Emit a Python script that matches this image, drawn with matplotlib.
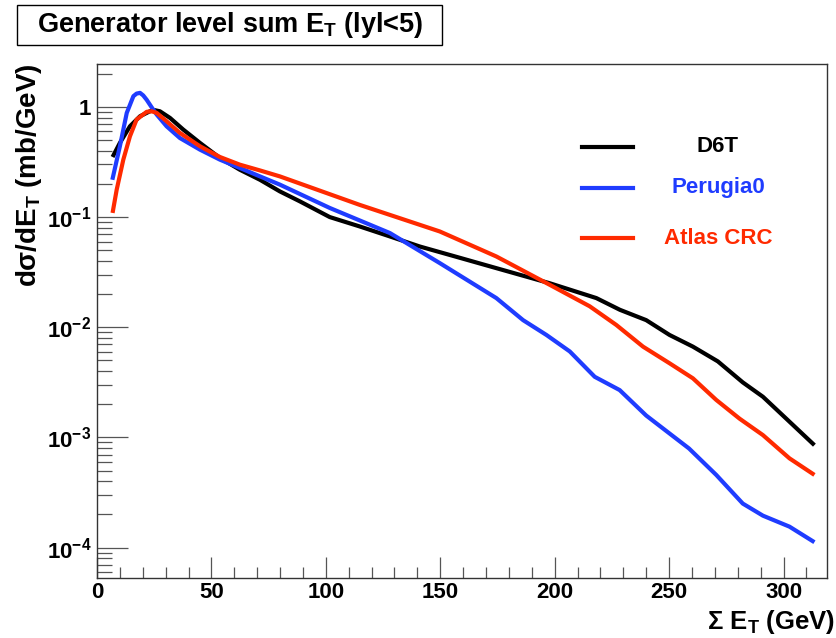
import matplotlib
matplotlib.use("Agg")
import math
import matplotlib.pyplot as plt
from matplotlib.patches import Rectangle
from matplotlib.ticker import LogLocator, MultipleLocator, NullFormatter

# ---- data ----
d6t_x = [6.8, 10, 14.4, 18.8, 23.1, 25.3, 27.5, 31.9, 37.7, 45, 53.7, 62.4, 71.2, 79.9, 88.6,
         101.7, 114.8, 128, 141, 154, 176, 197.8, 218.2, 228.5, 240, 250.2, 260.4,
         271.3, 282.2, 291, 301.2, 313.5]
d6t_y = [0.351, 0.471, 0.667, 0.822, 0.912, 0.933, 0.912, 0.794, 0.622, 0.471, 0.344, 0.269,
         0.218, 0.171, 0.139, 0.100, 0.0822, 0.0667, 0.0541, 0.0454, 0.0337, 0.0251,
         0.0184, 0.0144, 0.0116, 0.00851, 0.00667, 0.00490, 0.00316, 0.00234,
         0.00148, 0.000851]

perugia_x = [6.7, 10, 13, 15.9, 17.3, 18.8, 20.2, 21.7, 23.9, 26.1, 30.4, 36.2, 45, 53.7,
             62.4, 71.2, 79.9, 101.7, 128, 149.8, 174.5, 186.2, 196.4, 206.6, 217.5,
             228.4, 240, 258.7, 270.6, 282.2, 291, 302.6, 313.5]
perugia_y = [0.218, 0.439, 0.881, 1.25, 1.32, 1.34, 1.27, 1.16, 0.99, 0.851, 0.667, 0.522,
             0.409, 0.332, 0.279, 0.234, 0.197, 0.121, 0.0716, 0.0382, 0.0184, 0.0116,
             0.00851, 0.00603, 0.00355, 0.00269, 0.00158, 0.000794, 0.000457, 0.000251,
             0.000195, 0.000155, 0.000112]

atlas_x = [6.8, 8.6, 11.5, 14.4, 17.3, 21.7, 23.9, 26.1, 30.4, 36.2, 45, 53.7, 62.4, 71.2,
           79.9, 114.8, 149.8, 174.5, 197.8, 215.3, 226.9, 238.6, 250.2, 260.4, 270.6,
           280.8, 291, 302.6, 313.5]
atlas_y = [0.109, 0.177, 0.332, 0.541, 0.767, 0.902, 0.912, 0.881, 0.741, 0.581, 0.439,
           0.351, 0.299, 0.265, 0.234, 0.129, 0.0740, 0.0439, 0.0243, 0.0155, 0.0105,
           0.00667, 0.00471, 0.00344, 0.00219, 0.00148, 0.00105, 0.000646, 0.000457]

series_names = ["D6T", "Perugia0", "Atlas CRC"]
colors = ["#000000", "#1f3cff", "#ff2a00"]

plt.rcParams['font.family'] = ['Liberation Sans', 'DejaVu Sans']
plt.rcParams['mathtext.fontset'] = 'custom'
plt.rcParams['mathtext.rm'] = 'Liberation Sans:bold'
plt.rcParams['mathtext.it'] = 'Liberation Sans:bold'
plt.rcParams['mathtext.bf'] = 'Liberation Sans:bold'

W, H = 836, 638
fig = plt.figure(figsize=(W / 100, H / 100), dpi=100)
ax = fig.add_axes([97 / W, 1 - 578 / H, (827 - 97) / W, (578 - 64) / H])

lw = 3.0
for (xs, ys), c in zip([(d6t_x, d6t_y), (perugia_x, perugia_y), (atlas_x, atlas_y)], colors):
    ax.plot(xs, ys, color=c, lw=lw, solid_capstyle='butt', solid_joinstyle='round')

ax.set_yscale('log')
ax.set_xlim(0, 319)
ax.set_ylim(5.3e-5, 2.45)

ax.xaxis.set_major_locator(MultipleLocator(50))
ax.xaxis.set_minor_locator(MultipleLocator(10))
ax.yaxis.set_major_locator(LogLocator(base=10, numticks=10))
ax.yaxis.set_minor_locator(LogLocator(base=10, subs=range(2, 10), numticks=20))
ax.yaxis.set_minor_formatter(NullFormatter())

def ylab(v, pos):
    e = int(round(math.log10(v)))
    if e == 0:
        return "1"
    return r"$\mathbf{10^{%d}}$" % e
ax.yaxis.set_major_formatter(plt.FuncFormatter(ylab))

ax.tick_params(axis='both', which='both', direction='in', top=False, right=False,
               color='#555555', width=0.9)
ax.tick_params(axis='y', which='major', length=22, labelsize=16, pad=4)
ax.tick_params(axis='y', which='minor', length=11)
ax.tick_params(axis='x', which='major', length=15, labelsize=16, pad=3)
ax.tick_params(axis='x', which='minor', length=8)
for lab in ax.get_xticklabels() + ax.get_yticklabels():
    lab.set_fontweight('bold')
for s in ax.spines.values():
    s.set_color('#333333')
    s.set_linewidth(1.0)

# axis titles
fig.text(29 / W, 1 - 63 / H, r"d$\mathregular{\sigma}$/dE$_{\mathregular{T}}$ (mb/GeV)",
         fontsize=20, fontweight='bold', rotation=90, ha='center', va='top')
fig.text(835 / W, 1 - 608 / H, r"$\mathregular{\Sigma}$ E$_{\mathregular{T}}$ (GeV)",
         fontsize=18.5, fontweight='bold', ha='right', va='top')

# legend drawn manually
for name, c, yy in zip(series_names, colors, [147, 188, 238]):
    yf = 1 - yy / H
    fig.add_artist(plt.Line2D([582 / W, 633 / W], [yf, yf], transform=fig.transFigure,
                              color=c, lw=lw))
    fig.text(718 / W, yf, name, color=c, fontsize=16, fontweight='bold',
             ha='center', va='center')

# title box
fig.add_artist(Rectangle((17 / W, 1 - 45 / H), (442 - 17) / W, 40 / H,
                         transform=fig.transFigure, facecolor='white',
                         edgecolor='black', lw=1.0))
fig.text(230 / W, 1 - 25 / H, r"Generator level sum E$_{\mathregular{T}}$ (lyl<5)",
         fontsize=19.5, fontweight='bold', ha='center', va='center')

fig.savefig("out.png", dpi=100)
